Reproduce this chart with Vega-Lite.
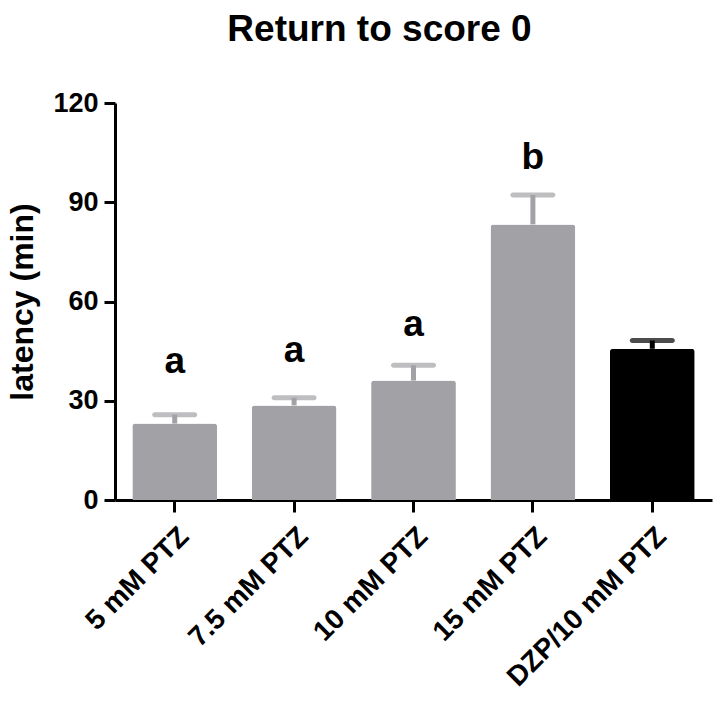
{
  "$schema": "https://vega.github.io/schema/vega-lite/v6.json",
  "width": 597,
  "height": 397,
  "autosize": {"type": "none"},
  "padding": {"left": 115, "top": 103, "right": 10, "bottom": 209},
  "background": "white",
  "title": {
    "text": "Return to score 0",
    "font": "Liberation Sans",
    "fontSize": 37,
    "fontWeight": "bold",
    "color": "black",
    "anchor": "middle",
    "frame": "group",
    "dx": -34,
    "offset": 40
  },
  "data": {
    "values": [
      {"group": "5 mM PTZ", "kind": "PTZ", "mean": 23.1, "upper": 25.8, "letter": "a", "letter_y": 38.4},
      {"group": "7.5 mM PTZ", "kind": "PTZ", "mean": 28.6, "upper": 30.9, "letter": "a", "letter_y": 41.7},
      {"group": "10 mM PTZ", "kind": "PTZ", "mean": 36.1, "upper": 40.7, "letter": "a", "letter_y": 49.5},
      {"group": "15 mM PTZ", "kind": "PTZ", "mean": 83.3, "upper": 92.2, "letter": "b", "letter_y": 99.9},
      {"group": "DZP/10 mM PTZ", "kind": "DZP", "mean": 45.7, "upper": 48.2, "letter": "", "letter_y": 0}
    ]
  },
  "encoding": {
    "x": {
      "field": "group",
      "type": "nominal",
      "sort": null,
      "scale": {"paddingInner": 0.29, "paddingOuter": 0.145},
      "axis": {
        "title": null,
        "labelAngle": -45,
        "labelLimit": 500,
        "labelFont": "Liberation Sans",
        "labelFontSize": 28,
        "labelFontWeight": "bold",
        "labelColor": "black",
        "labelPadding": 10,
        "domainColor": "black",
        "domainWidth": 3,
        "tickColor": "black",
        "tickWidth": 3,
        "tickSize": 12
      }
    }
  },
  "layer": [
    {
      "mark": {"type": "bar", "cornerRadiusTopLeft": 3, "cornerRadiusTopRight": 3},
      "encoding": {
        "y": {
          "field": "mean",
          "type": "quantitative",
          "scale": {"domain": [0, 120], "nice": false},
          "axis": {
            "title": "latency (min)",
            "values": [0, 30, 60, 90, 120],
            "grid": false,
            "titleFont": "Liberation Sans",
            "titleFontSize": 32,
            "titleFontWeight": "bold",
            "titleColor": "black",
            "titlePadding": 13,
            "labelFont": "Liberation Sans",
            "labelFontSize": 27,
            "labelFontWeight": "bold",
            "labelColor": "black",
            "labelPadding": 6,
            "domainColor": "black",
            "domainWidth": 3,
            "tickColor": "black",
            "tickWidth": 3,
            "tickSize": 11
          }
        },
        "color": {
          "field": "kind",
          "type": "nominal",
          "scale": {"domain": ["PTZ", "DZP"], "range": ["#A2A2A6", "#000000"]},
          "legend": null
        }
      }
    },
    {
      "mark": {"type": "rule", "strokeWidth": 5},
      "encoding": {
        "y": {"field": "mean", "type": "quantitative"},
        "y2": {"field": "upper"},
        "color": {"field": "kind", "type": "nominal", "legend": null}
      }
    },
    {
      "mark": {"type": "tick", "thickness": 5, "size": 45, "cornerRadius": 2.5},
      "encoding": {
        "y": {"field": "upper", "type": "quantitative"},
        "color": {"field": "kind", "type": "nominal", "legend": null}
      }
    },
    {
      "transform": [{"filter": "datum.letter != ''"}],
      "mark": {"type": "text", "font": "Liberation Sans", "fontSize": 37, "fontWeight": "bold", "color": "black", "baseline": "alphabetic", "align": "center"},
      "encoding": {
        "y": {"field": "letter_y", "type": "quantitative"},
        "text": {"field": "letter"}
      }
    }
  ],
  "config": {"view": {"stroke": null}}
}
